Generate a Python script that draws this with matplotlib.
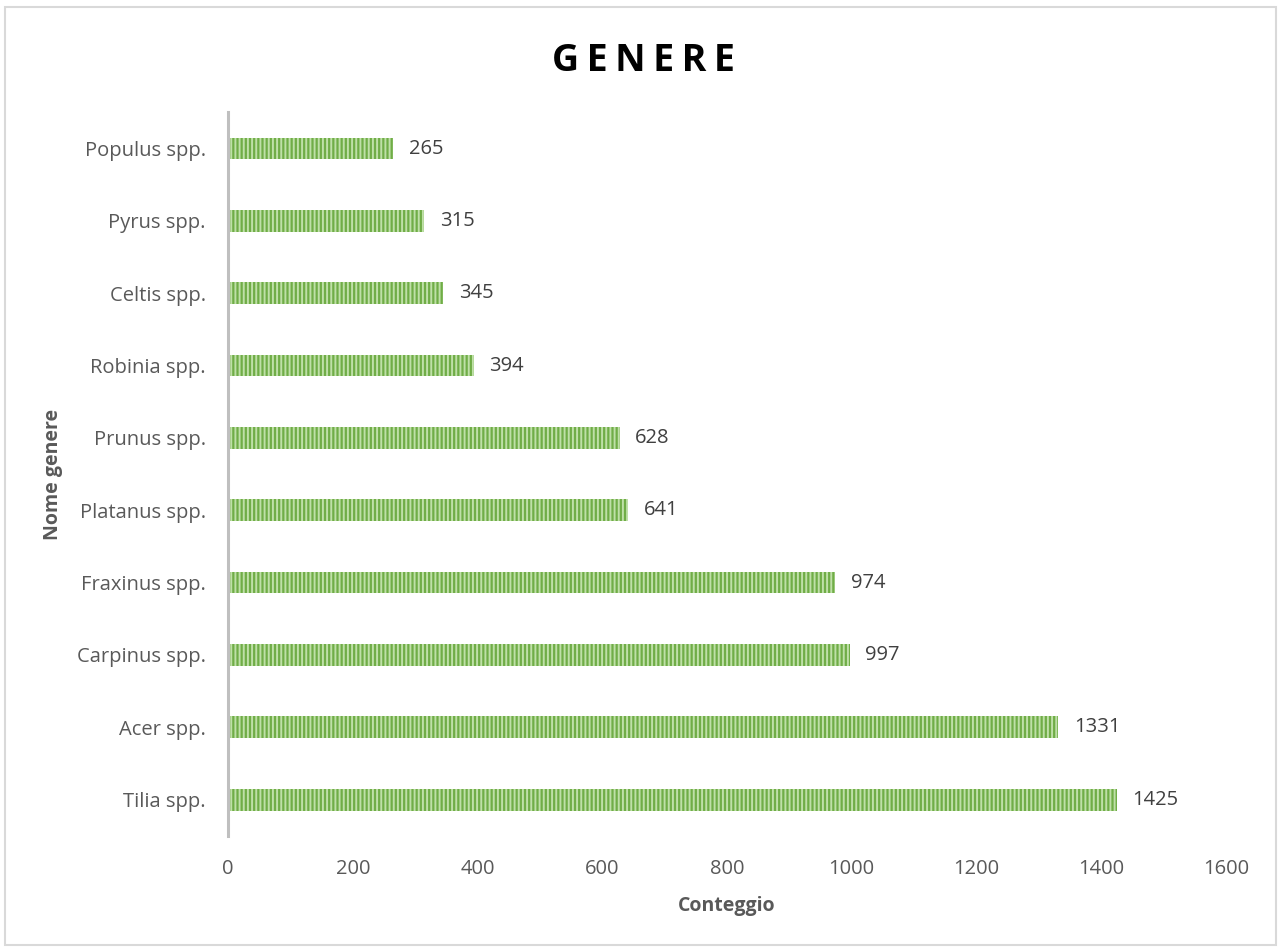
import matplotlib.pyplot as plt
from matplotlib.patches import Rectangle

# dati
generi = ["Tilia spp.", "Acer spp.", "Carpinus spp.", "Fraxinus spp.", "Platanus spp.",
          "Prunus spp.", "Robinia spp.", "Celtis spp.", "Pyrus spp.", "Populus spp."]
conteggi = [1425, 1331, 997, 974, 641, 628, 394, 345, 315, 265]
xticks = [0, 200, 400, 600, 800, 1000, 1200, 1400, 1600]

plt.rcParams['font.family'] = ['Open Sans', 'DejaVu Sans']
plt.rcParams['hatch.linewidth'] = 1.4

fig = plt.figure(figsize=(12.81, 9.52), dpi=100)
ax = fig.add_axes([0.178, 0.122, 0.779, 0.76])

pos = list(range(len(generi)))
ax.barh(pos, conteggi, height=0.3, color="#70AD47", edgecolor="#BFE0A8",
        hatch="||||", linewidth=0)

for p, v in zip(pos, conteggi):
    ax.text(v + 25, p, str(v), va="center", ha="left", fontsize=14.5, color="#404040")

ax.set_xlim(0, 1600)
ax.set_ylim(-0.5, len(generi) - 0.5)
ax.set_xticks(xticks)
ax.set_yticks(pos)
ax.set_yticklabels(generi)
ax.tick_params(axis="both", length=0, labelsize=14.5, labelcolor="#595959")
ax.tick_params(axis="x", pad=17)
ax.tick_params(axis="y", pad=16)

for s in ["top", "right", "bottom"]:
    ax.spines[s].set_visible(False)
ax.spines["left"].set_color("#BFBFBF")
ax.spines["left"].set_linewidth(2.2)

ax.set_xlabel("Conteggio", fontsize=14, fontweight="bold", color="#595959", labelpad=12)
ax.set_ylabel("Nome genere", fontsize=14, fontweight="bold", color="#595959", labelpad=10)

fig.text(0.502, 0.936, "\u2009".join("GENERE"), ha="center", va="center", fontsize=27,
         fontweight="bold", color="black")

# bordo del grafico
fig.patches.append(Rectangle((0.004, 0.007), 0.992, 0.986, transform=fig.transFigure,
                             fill=False, edgecolor="#D9D9D9", linewidth=1.5))

fig.savefig("out.png", dpi=100)
